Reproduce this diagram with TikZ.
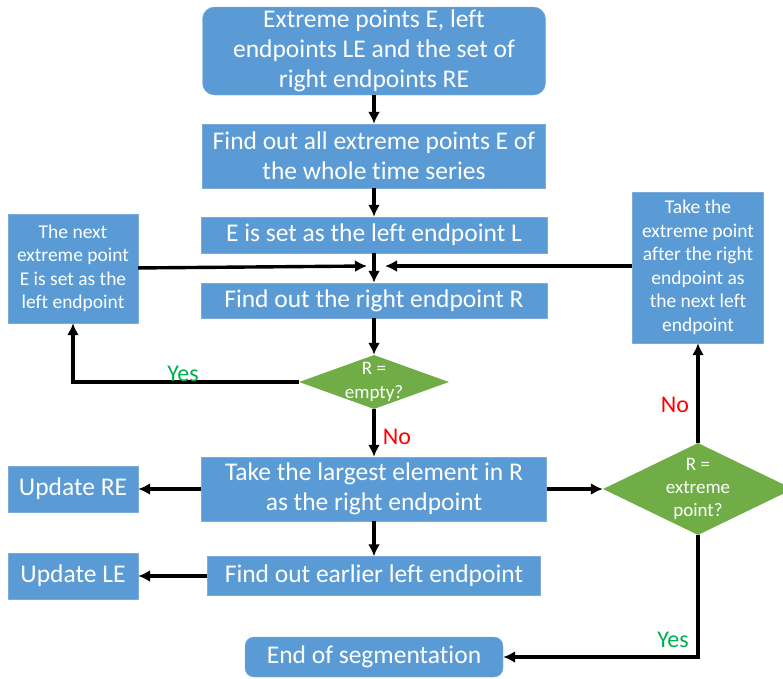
\documentclass[tikz,border=0pt]{standalone}
\usepackage{fontspec}
\setmainfont{Carlito}[Ligatures=NoCommon]
\usepackage{xcolor}
\usetikzlibrary{shapes,positioning,arrows.meta,calc}
\definecolor{boxblue}{RGB}{91,155,213}
\definecolor{boxedge}{RGB}{125,172,220}
\definecolor{decgreen}{RGB}{112,173,71}
\definecolor{yesgreen}{RGB}{0,176,80}

\begin{document}
\begin{tikzpicture}[x=1pt,y=-1pt,
    blk/.style={draw=boxedge, fill=boxblue, text=white, align=center, inner sep=0pt, font=\fontsize{25.5}{30}\selectfont},
    small/.style={blk, font=\fontsize{19.5}{23.5}\selectfont},
    dec/.style={diamond, fill=decgreen, inner sep=0pt},
    dectext/.style={text=white, align=center, font=\fontsize{19}{23.3}\selectfont},
    flowline/.style={draw=black, line width=3.4pt, -{Latex[length=12pt,width=12pt]}},
    yes/.style={text=yesgreen, font=\fontsize{24}{26}\selectfont},
    no/.style={text=red, font=\fontsize{24}{26}\selectfont}]
        \useasboundingbox (0,0) rectangle (783,678);
        % main column
        \node[blk, rounded corners=12pt, minimum width=343pt, minimum height=88pt] (start) at (374,51) {Extreme points E, left\\endpoints LE and the set of\\right endpoints RE};
        \node[blk, minimum width=343pt, minimum height=64pt] (findall) at (374,156) {Find out all extreme points E of\\the whole time series};
        \node[blk, minimum width=346pt, minimum height=36pt] (setL) at (374,235) {E is set as the left endpoint L};
        \node[blk, minimum width=346pt, minimum height=35pt] (findR) at (374,300.5) {Find out the right endpoint R};
        \node[dec, minimum width=150pt, minimum height=54pt, label={[dectext]center:{R =\\empty?}}] (empty) at (374,382) {};
        \node[blk, minimum width=345pt, minimum height=64pt] (largest) at (374,489) {Take the largest element in R\\as the right endpoint};
        \node[blk, minimum width=333pt, minimum height=39pt] (earlier) at (374,576) {Find out earlier left endpoint};
        \node[blk, rounded corners=9pt, minimum width=258pt, minimum height=40pt] (finish) at (374,657) {End of segmentation};
        % side boxes
        \node[small, minimum width=130pt, minimum height=109pt] (nextE) at (73,268.5) {The next\\extreme point\\E is set as the\\left endpoint};
        \node[small, minimum width=131pt, minimum height=151pt] (takeNext) at (698,267.5) {Take the\\extreme point\\after the right\\endpoint as\\the next left\\endpoint};
        \node[dec, minimum width=190pt, minimum height=92pt, label={[dectext]center:{R =\\extreme\\point?}}] (extreme) at (698,489) {};
        \foreach \y/\name/\txt in {489/updRE/Update RE,576/updLE/Update LE}{\node[blk, minimum width=130pt, minimum height=46pt] (\name) at (73,\y) {\txt};}
        % joint above the right endpoint box
        \coordinate (jl) at (367,266);
        \coordinate (jr) at (385,266);
        \foreach \a/\b in {start/findall,findall/setL,setL/findR,findR/empty,empty/largest,largest/earlier,largest/updRE,earlier/updLE,largest/extreme,extreme/takeNext}
            \draw[flowline] (\a) -- (\b);
        \draw[flowline] (nextE) -- (jl);
        \draw[flowline] (takeNext.west |- jr) -- (jr);
        \draw[flowline] (empty.west) -| (nextE.south);
        \draw[flowline] (extreme.south) |- (finish.east);
        \node[yes] (yesE) at (183,374) {Yes};
        \node[no] (noE) at (397,437) {No};
        \node[no] (noX) at (675,405) {No};
        \node[yes] (yesX) at (673,640) {Yes};
\end{tikzpicture}
\end{document}
